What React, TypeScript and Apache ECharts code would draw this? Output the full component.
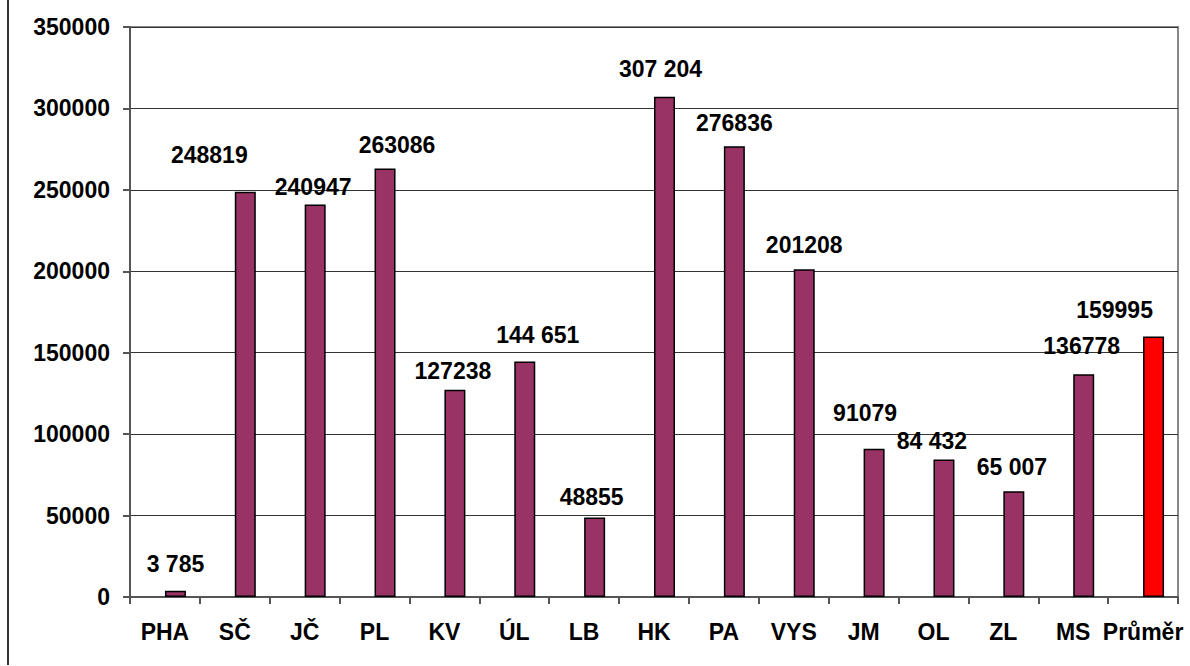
import React, { useEffect, useRef } from "react";
import * as echarts from "echarts";

const categories = ["PHA", "SČ", "JČ", "PL", "KV", "ÚL", "LB", "HK", "PA", "VYS", "JM", "OL", "ZL", "MS", "Průměr"];
const values = [3785, 248819, 240947, 263086, 127238, 144651, 48855, 307204, 276836, 201208, 91079, 84432, 65007, 136778, 159995];
const valueLabels = ["3 785", "248819", "240947", "263086", "127238", "144 651", "48855", "307 204", "276836", "201208", "91079", "84 432", "65 007", "136778", "159995"];
const yTicks = { min: 0, max: 350000, interval: 50000 };

// label placement tweaks (dx, dy) as in the original
const labelOffsets: [number, number][] = [
  [0, -15], [-36, -25], [-2, -6], [12, -12], [-2, -7], [13, -15], [-3, -9], [-4, -16],
  [0, -12], [0, -13], [-9, -24], [-12, -7], [-2, -13], [-2, -17], [-39, -15],
];

const FONT = "'Liberation Sans', Arial, sans-serif";
const PURPLE = "#993366";
const RED = "#FF0000";
const FS = 23;

export default function App() {
  const ref = useRef<HTMLDivElement>(null);
  useEffect(() => {
    const chart = echarts.init(ref.current!, null, { renderer: "svg" });
    const data = values.map((v, i) => ({
      value: v,
      itemStyle: { color: categories[i] === "Průměr" ? RED : PURPLE },
      label: { offset: labelOffsets[i] },
    }));
    chart.setOption({
      animation: false,
      backgroundColor: "#ffffff",
      textStyle: { fontFamily: FONT },
      grid: {
        left: 130,
        right: 12,
        top: 27,
        bottom: 69,
        show: true,
        borderColor: "#888888",
        borderWidth: 2,
        backgroundColor: "transparent",
      },
      xAxis: {
        type: "category",
        data: categories,
        axisLine: { lineStyle: { color: "#555555", width: 2 } },
        axisTick: { show: true, length: 7, lineStyle: { color: "#555555", width: 2 } },
        axisLabel: {
          margin: 23,
          fontSize: FS,
          fontWeight: "bold",
          color: "#000000",
          fontFamily: FONT,
          interval: 0,
        },
      },
      yAxis: {
        type: "value",
        min: yTicks.min,
        max: yTicks.max,
        interval: yTicks.interval,
        axisLine: { show: true, lineStyle: { color: "#555555", width: 2 } },
        axisTick: { show: true, length: 7, lineStyle: { color: "#555555", width: 2 } },
        splitLine: { show: true, lineStyle: { color: "#333333", width: 1 } },
        axisLabel: {
          margin: 20,
          fontSize: FS,
          fontWeight: "bold",
          color: "#000000",
          fontFamily: FONT,
          formatter: (v: number) => String(v),
        },
      },
      series: [
        {
          type: "bar",
          name: "placeholder",
          data: categories.map(() => "-"),
          barWidth: 21,
          barGap: "0%",
        },
        {
          type: "bar",
          name: "kraje",
          data,
          barWidth: 21,
          barGap: "0%",
          itemStyle: { borderColor: "#000000", borderWidth: 1.5 },
          label: {
            show: true,
            position: "top",
            distance: 0,
            fontSize: FS,
            fontWeight: "bold",
            color: "#000000",
            fontFamily: FONT,
            formatter: (p: any) => valueLabels[p.dataIndex],
          },
        },
      ],
      graphic: [
        {
          type: "line",
          shape: { x1: 8, y1: 0, x2: 8, y2: 665 },
          style: { stroke: "#333333", lineWidth: 2 },
        },
      ],
    });
    return () => chart.dispose();
  }, []);
  return (
    <div
      ref={ref}
      style={{ position: "absolute", left: 0, top: 0, width: 1190, height: 666 }}
    />
  );
}
